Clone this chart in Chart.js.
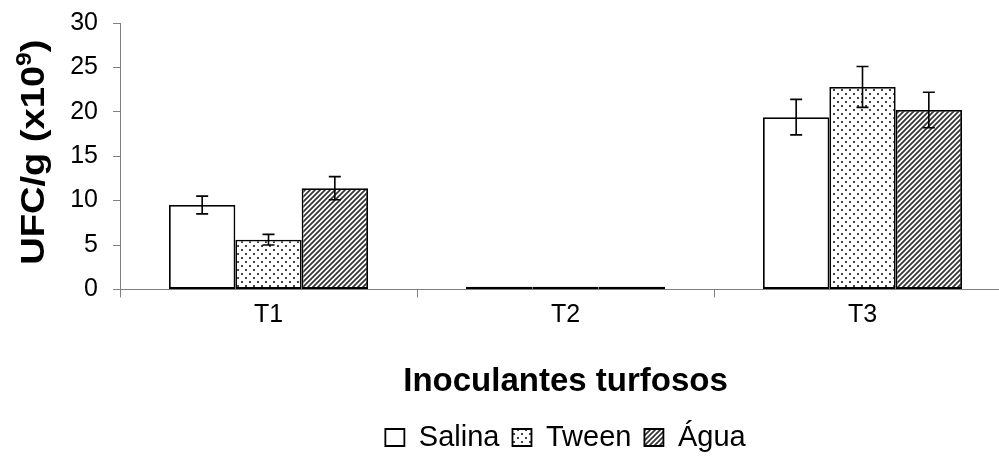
<!DOCTYPE html>
<html>
<head>
<meta charset="utf-8">
<script src="https://cdn.jsdelivr.net/npm/chart.js@4.4.1/dist/chart.umd.min.js"></script>
<style>
  html, body { margin: 0; padding: 0; background: #fff; overflow: hidden; }
  #wrap { width: 1012px; height: 468px; position: relative; }
</style>
</head>
<body>
<div id="wrap"><canvas id="chart"></canvas></div>
<script>
const categories = ['T1', 'T2', 'T3'];
const seriesNames = ['Salina', 'Tween', 'Água'];
const salina = [9.5, 0.3, 19.4];
const tween = [5.6, 0.3, 22.8];
const agua = [11.4, 0.3, 20.2];
const salinaErr = [1.0, 0, 2.0];
const tweenErr = [0.6, 0, 2.3];
const aguaErr = [1.3, 0, 2.0];
const yTicks = [0, 5, 10, 15, 20, 25, 30];

const FONT = "'Liberation Sans', Arial, sans-serif";

function dotPattern() {
  const c = document.createElement('canvas');
  c.width = 8; c.height = 8;
  const g = c.getContext('2d');
  g.fillStyle = '#fff';
  g.fillRect(0, 0, 8, 8);
  g.fillStyle = '#444';
  g.fillRect(1, 1, 2, 2);
  g.fillRect(5, 5, 2, 2);
  return g.createPattern(c, 'repeat');
}

function hatchPattern() {
  const c = document.createElement('canvas');
  c.width = 5; c.height = 5;
  const g = c.getContext('2d');
  g.fillStyle = '#fff';
  g.fillRect(0, 0, 5, 5);
  g.strokeStyle = '#333';
  g.lineWidth = 1.7;
  g.beginPath();
  g.moveTo(-1, 6); g.lineTo(6, -1);
  g.moveTo(-1, 1); g.lineTo(1, -1);
  g.moveTo(4, 6); g.lineTo(6, 4);
  g.stroke();
  return g.createPattern(c, 'repeat');
}

const errors = [salinaErr, tweenErr, aguaErr];

// error bars drawn over the bars
const errorBars = {
  id: 'errorBars',
  afterDatasetsDraw(chart) {
    const ctx = chart.ctx;
    const y = chart.scales.y;
    ctx.save();
    ctx.strokeStyle = '#000';
    ctx.lineWidth = 1.6;
    chart.data.datasets.forEach((ds, i) => {
      const meta = chart.getDatasetMeta(i);
      meta.data.forEach((bar, j) => {
        const err = errors[i][j];
        if (!err) return;
        const v = ds.data[j];
        const top = y.getPixelForValue(v + err);
        const bot = y.getPixelForValue(v - err);
        ctx.beginPath();
        ctx.moveTo(bar.x, top); ctx.lineTo(bar.x, bot);
        ctx.moveTo(bar.x - 6, top); ctx.lineTo(bar.x + 6, top);
        ctx.moveTo(bar.x - 6, bot); ctx.lineTo(bar.x + 6, bot);
        ctx.stroke();
      });
    });
    ctx.restore();
  }
};

// y title with superscript exponent
const yTitle = {
  id: 'yTitle',
  afterDraw(chart) {
    const ctx = chart.ctx;
    const area = chart.chartArea;
    const main = 'UFC/g (x10', sup = '9', close = ')';
    ctx.save();
    ctx.fillStyle = '#000';
    ctx.textBaseline = 'alphabetic';
    ctx.font = 'bold 34px ' + FONT;
    const w1 = ctx.measureText(main).width;
    const w3 = ctx.measureText(close).width;
    ctx.font = 'bold 22px ' + FONT;
    const w2 = ctx.measureText(sup).width;
    const total = w1 + w2 + w3;
    ctx.translate(44, (area.top + area.bottom) / 2 - 4);
    ctx.rotate(-Math.PI / 2);
    ctx.scale(1.12, 1);
    let x = -total / 2;
    ctx.font = 'bold 34px ' + FONT;
    ctx.fillText(main, x, 0);
    x += w1;
    ctx.font = 'bold 22px ' + FONT;
    ctx.fillText(sup, x, -13);
    x += w2;
    ctx.font = 'bold 34px ' + FONT;
    ctx.fillText(close, x, 0);
    ctx.restore();
  }
};

const tweenFill = dotPattern();
const aguaFill = hatchPattern();

new Chart(document.getElementById('chart'), {
  type: 'bar',
  data: {
    labels: categories,
    datasets: [
      { label: seriesNames[0], data: salina, backgroundColor: '#fff' },
      { label: seriesNames[1], data: tween, backgroundColor: tweenFill },
      { label: seriesNames[2], data: agua, backgroundColor: aguaFill }
    ].map(d => Object.assign(d, {
      borderColor: '#000',
      borderWidth: 1.8,
      borderSkipped: false,
      barPercentage: 1,
      categoryPercentage: 0.67
    }))
  },
  options: {
    responsive: true,
    maintainAspectRatio: false,
    animation: false,
    devicePixelRatio: 1,
    layout: { padding: { top: 23, right: 1, bottom: 6, left: 0 } },
    plugins: {
      tooltip: { enabled: false },
      legend: {
        position: 'bottom',
        fullSize: false,
        labels: {
          color: '#000',
          font: { family: FONT, size: 29 },
          boxWidth: 19,
          boxHeight: 17,
          padding: 13
        }
      }
    },
    scales: {
      x: {
        grid: { offset: true, drawOnChartArea: false, color: '#808080', tickLength: 8 },
        border: { color: '#808080' },
        ticks: { color: '#000', font: { family: FONT, size: 25 }, padding: 3 },
        title: {
          display: true,
          text: 'Inoculantes turfosos',
          color: '#000',
          font: { family: FONT, size: 33, weight: 'bold' },
          padding: { top: 29, bottom: 8 }
        }
      },
      y: {
        min: 0,
        max: 30,
        afterBuildTicks(scale) { scale.ticks = yTicks.map(v => ({ value: v })); },
        afterFit(scale) {
          scale.width = 120;
          scale.paddingTop = 0;
          scale.paddingBottom = 0;
        },
        grid: { drawOnChartArea: false, color: '#808080', tickLength: 7 },
        border: { color: '#808080' },
        ticks: { color: '#000', font: { family: FONT, size: 25 }, padding: 15 }
      }
    }
  },
  plugins: [errorBars, yTitle]
});
</script>
</body>
</html>
